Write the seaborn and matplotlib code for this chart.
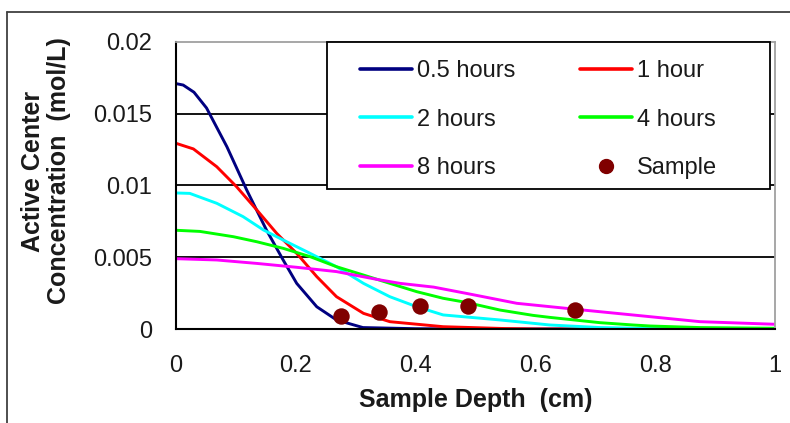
import matplotlib
matplotlib.use("Agg")
import matplotlib.pyplot as plt
import seaborn as sns
import pandas as pd
from matplotlib.lines import Line2D
from matplotlib.patches import Rectangle

sns.set_theme(style="white")
plt.rcParams['font.family'] = ['Liberation Sans', 'DejaVu Sans']

# ---- data ----
x_05 = [0.0, 0.012, 0.03, 0.051, 0.085, 0.118, 0.151, 0.179, 0.2015, 0.235, 0.268, 0.312, 0.40, 0.5, 1.0]
y_05 = [0.0171, 0.0170, 0.0165, 0.0154, 0.0127, 0.00969, 0.0069, 0.0048, 0.00318, 0.00155, 0.00063, 0.0001, 0.00002, 0.0, 0.0]

x_1 = [0.0, 0.029, 0.068, 0.101, 0.135, 0.168, 0.2015, 0.235, 0.268, 0.313, 0.357, 0.446, 0.55, 0.6, 1.0]
y_1 = [0.01294, 0.01255, 0.01131, 0.00992, 0.00829, 0.00667, 0.00527, 0.00365, 0.00225, 0.00109, 0.00051, 0.00016, 0.00003, 0.0, 0.0]

x_2 = [0.0, 0.023, 0.068, 0.112, 0.146, 0.179, 0.224, 0.268, 0.313, 0.357, 0.402, 0.446, 0.541, 0.624, 0.708, 0.8, 1.0]
y_2 = [0.00948, 0.00945, 0.00876, 0.00783, 0.0069, 0.0062, 0.00527, 0.00434, 0.00318, 0.00225, 0.00155, 0.00098, 0.00063, 0.00028, 0.0001, 0.00003, 0.0]

x_4 = [0.0, 0.04, 0.096, 0.135, 0.179, 0.224, 0.268, 0.313, 0.357, 0.402, 0.446, 0.485, 0.541, 0.596, 0.624, 0.708, 0.763, 0.791, 0.875, 1.0]
y_4 = [0.00688, 0.0068, 0.00643, 0.00608, 0.00562, 0.00504, 0.00434, 0.00376, 0.00318, 0.0026, 0.00214, 0.00185, 0.00132, 0.00095, 0.00081, 0.00044, 0.00028, 0.00021, 0.0001, 0.00005]

x_8 = [0.0, 0.068, 0.135, 0.2015, 0.268, 0.335, 0.374, 0.402, 0.43, 0.485, 0.569, 0.68, 0.791, 0.875, 1.0]
y_8 = [0.0049, 0.00481, 0.00457, 0.0043, 0.004, 0.00346, 0.00318, 0.00305, 0.00292, 0.00248, 0.00179, 0.00132, 0.00086, 0.00051, 0.00033]

sample_x = [0.275, 0.339, 0.408, 0.488, 0.666]
sample_y = [0.00091, 0.00121, 0.0016, 0.0016, 0.00132]

series_names = ["0.5 hours", "1 hour", "2 hours", "4 hours", "8 hours"]
series_colors = ["#000080", "#FF0000", "#00FFFF", "#00FF00", "#FF00FF"]
sample_color = "#800000"

x_ticks = [0, 0.2, 0.4, 0.6, 0.8, 1]
x_tick_labels = ["0", "0.2", "0.4", "0.6", "0.8", "1"]
y_ticks = [0, 0.005, 0.01, 0.015, 0.02]
y_tick_labels = ["0", "0.005", "0.01", "0.015", "0.02"]

rows = []
for name, xs, ys in zip(series_names, [x_05, x_1, x_2, x_4, x_8], [y_05, y_1, y_2, y_4, y_8]):
    for a, b in zip(xs, ys):
        rows.append({"depth": a, "conc": b, "series": name})
df = pd.DataFrame(rows)
df_s = pd.DataFrame({"depth": sample_x, "conc": sample_y})

# ---- figure ----
W, H = 790, 423
fig = plt.figure(figsize=(7.9, 4.23), dpi=100)
ax = fig.add_axes([176/W, (H-329)/H, (775-176)/W, (329-42)/H])

sns.lineplot(data=df, x="depth", y="conc", hue="series", hue_order=series_names,
             palette=series_colors, linewidth=2.1, ax=ax, legend=False, sort=False,
             estimator=None)
sns.scatterplot(data=df_s, x="depth", y="conc", color=sample_color, s=140,
                edgecolor=sample_color, linewidth=0, ax=ax, zorder=5, legend=False)

ax.set_xlim(0, 1)
ax.set_ylim(0, 0.02)
ax.set_xticks(x_ticks)
ax.set_xticklabels(x_tick_labels)
ax.set_yticks(y_ticks)
ax.set_yticklabels(y_tick_labels)
ax.tick_params(axis='both', direction='out', length=6, width=1.3, color='black',
               labelsize=17, labelcolor='#1a1a1a')
ax.tick_params(axis='y', pad=11)
ax.tick_params(axis='x', pad=13)
ax.set_xlabel("")
ax.set_ylabel("")

for yv in [0.005, 0.01, 0.015]:
    ax.axhline(yv, color='black', linewidth=1.3, zorder=0)
ax.spines['left'].set_color('black')
ax.spines['left'].set_linewidth(1.5)
ax.spines['bottom'].set_color('black')
ax.spines['bottom'].set_linewidth(1.5)
ax.spines['top'].set_color('#a0a0a0')
ax.spines['top'].set_linewidth(1.3)
ax.spines['right'].set_color('#a0a0a0')
ax.spines['right'].set_linewidth(1.3)

# legend frame drawn as a rectangle in figure pixels
fig.add_artist(Rectangle((327/W, (H-189)/H), (770-327)/W, (189-42)/H,
                         transform=fig.transFigure, facecolor='white',
                         edgecolor='black', linewidth=1.3, zorder=3))

handles = [Line2D([], [], color=c, linewidth=2.6) for c in series_colors]
samp_h = Line2D([], [], color=sample_color, marker='o', linestyle='none', markersize=10)
order = [0, 2, 4, 1, 3]
leg_handles = [handles[i] for i in order] + [samp_h]
leg_labels = [series_names[i] for i in order] + ["Sample"]
leg = fig.legend(leg_handles, leg_labels, ncol=2, loc='upper left',
                 bbox_to_anchor=(360/W, 1 - 60/H), bbox_transform=fig.transFigure,
                 borderaxespad=0, borderpad=0, frameon=False, fontsize=17,
                 handlelength=2.2, handletextpad=0.2, labelspacing=1.13,
                 columnspacing=2.75)
leg.set_zorder(4)
for t in leg.get_texts():
    t.set_color('#1a1a1a')

fig.text(476/W, 1 - 400/H, "Sample Depth  (cm)", ha='center', va='center',
         fontsize=18, fontweight='bold', color='#1a1a1a')
fig.text(46/W, 1 - 171/H, "Active Center\nConcentration  (mol/L)", ha='center',
         va='center', rotation=90, fontsize=18, fontweight='bold', color='#1a1a1a',
         linespacing=1.15, multialignment='center')

# outer border (only top and left visible)
fig.add_artist(Line2D([7/W, 7/W], [0, 1 - 12/H], transform=fig.transFigure,
                      color='#404040', linewidth=1.3))
fig.add_artist(Line2D([7/W, 1], [1 - 12/H, 1 - 12/H], transform=fig.transFigure,
                      color='#404040', linewidth=1.3))

fig.savefig("out.png", dpi=100)
